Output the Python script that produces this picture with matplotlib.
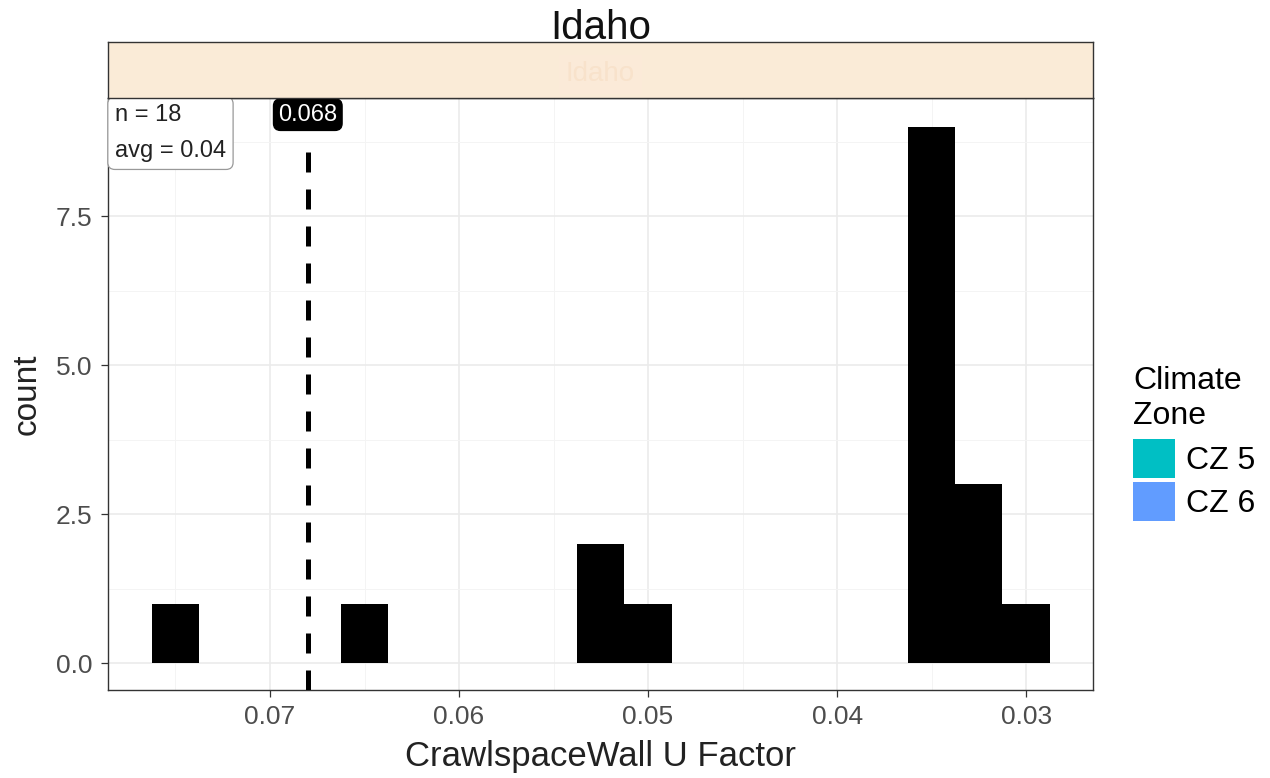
import matplotlib
matplotlib.use("Agg")
import matplotlib.pyplot as plt
from matplotlib.patches import Rectangle

plt.rcParams['font.family'] = ['Liberation Sans', 'DejaVu Sans']

# Data
bin_centers = [0.075, 0.065, 0.0525, 0.050, 0.035, 0.0325, 0.030]
counts = [1, 1, 2, 1, 9, 3, 1]
bin_width = 0.0025
ref_value = 0.068
ref_label = "0.068"
n_label = "n = 18"
avg_label = "avg = 0.04"
x_ticks = [0.07, 0.06, 0.05, 0.04, 0.03]
x_tick_labels = ["0.07", "0.06", "0.05", "0.04", "0.03"]
x_minor = [0.075, 0.065, 0.055, 0.045, 0.035]
y_ticks = [0.0, 2.5, 5.0, 7.5]
y_tick_labels = ["0.0", "2.5", "5.0", "7.5"]
y_minor = [1.25, 3.75, 6.25, 8.75]
legend_labels = ["CZ 5", "CZ 6"]
legend_colors = ["#00BFC4", "#619CFF"]
title = "Idaho"

fig = plt.figure(figsize=(12.7, 7.78), dpi=100)
W, H = 1270, 778
def fx(px): return px / W
def fy(py): return 1 - py / H

ax = fig.add_axes([fx(108), fy(690), fx(1093) - fx(108), fy(98) - fy(690)])
ax.bar(bin_centers, counts, width=bin_width, color="black", edgecolor="none", zorder=3)

ax.set_xticks(x_ticks)
ax.set_xticklabels(x_tick_labels)
ax.set_yticks(y_ticks)
ax.set_yticklabels(y_tick_labels)
ax.set_xticks(x_minor, minor=True)
ax.set_yticks(y_minor, minor=True)
ax.set_xlim(0.07857, 0.02646)
ax.set_ylim(-0.45, 9.48)
ax.grid(which="major", color="#EBEBEB", linewidth=1.2, zorder=0)
ax.grid(which="minor", color="#F4F4F4", linewidth=0.7, zorder=0)
ax.tick_params(which="minor", length=0)
ax.tick_params(which="major", length=5, color="#333333", labelsize=19,
               labelcolor="#4D4D4D", width=0.9, pad=6)
for s in ax.spines.values():
    s.set_color("#333333")
    s.set_linewidth(1.0)

ax.set_xlabel("CrawlspaceWall U Factor", fontsize=25, color="#222222", labelpad=8)
ax.set_ylabel("count", fontsize=24, color="#222222", labelpad=10)

# reference line
ax.axvline(ref_value, ymax=0.935, color="black", linestyle=(0, (4.0, 3.4)),
           linewidth=3.6, zorder=4)
ax.text(ref_value, 9.2, ref_label, ha="center", va="center", color="white",
        fontsize=17, zorder=6,
        bbox=dict(boxstyle="round,pad=0.2,rounding_size=0.3", fc="black", ec="black"))

# n / avg box
ax.text(0.007, 0.99, n_label + "\n" + avg_label, transform=ax.transAxes,
        ha="left", va="top", fontsize=17, linespacing=1.85, color="#222222", zorder=6,
        bbox=dict(boxstyle="round,pad=0.3,rounding_size=0.3", fc="white",
                  ec="#999999", lw=0.9))

# strip
strip = fig.add_axes([fx(108), fy(98), fx(1093) - fx(108), fy(42) - fy(98)])
strip.set_facecolor("#FAEBD7")
strip.set_xticks([]); strip.set_yticks([])
for s in strip.spines.values():
    s.set_color("#333333"); s.set_linewidth(1.0)
strip.text(0.5, 0.42, title, transform=strip.transAxes, ha="center", va="center",
           fontsize=20, color="#F8E2CB",
           bbox=dict(boxstyle="square,pad=0.25", fc="#FBEAD8", ec="none"))

fig.text(fx(601), fy(28), title, ha="center", va="center", fontsize=29,
         color="#111111", zorder=10)

# legend
handles = [Rectangle((0, 0), 1, 1, fc=c, ec="none") for c in legend_colors]
leg = fig.legend(handles, legend_labels, title="Climate\nZone", loc="upper left",
                 bbox_to_anchor=(fx(1133), fy(366)), frameon=False, fontsize=23,
                 title_fontsize=23, handlelength=1.3, handleheight=1.5,
                 handletextpad=0.35, labelspacing=0.12, borderaxespad=0,
                 borderpad=0)
leg._legend_box.align = "left"
leg._legend_box.sep = 6

fig.savefig("out.png", dpi=100)
